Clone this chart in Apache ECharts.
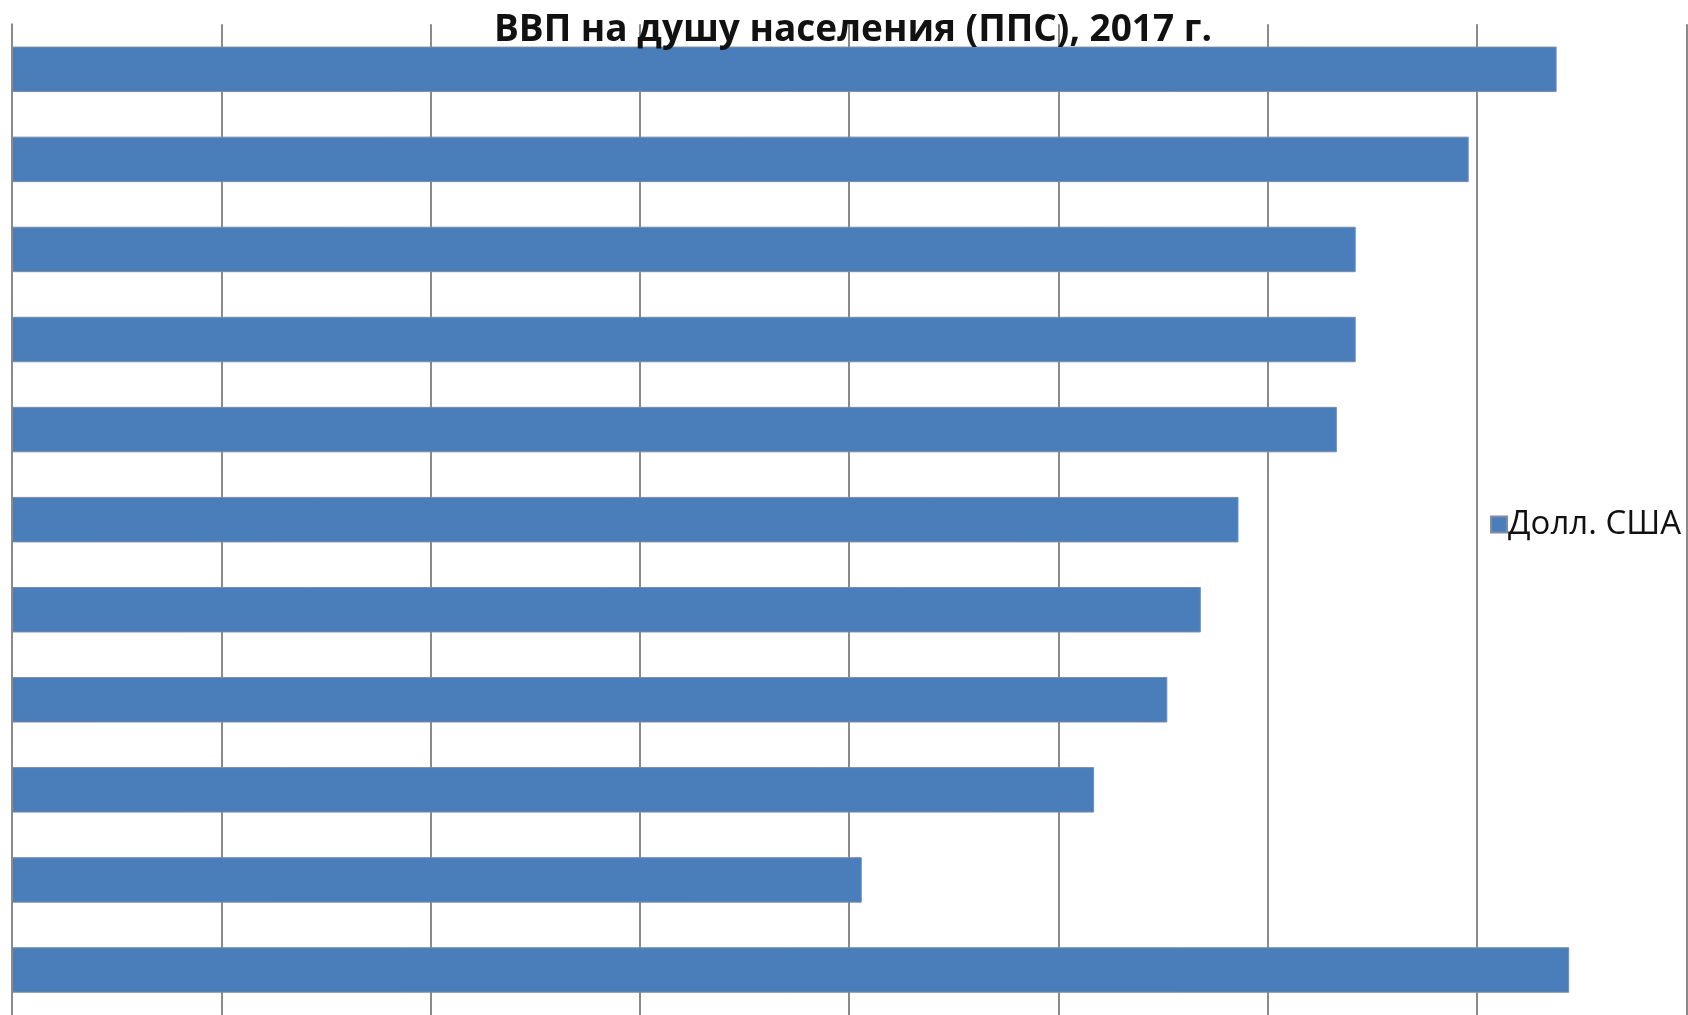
<!DOCTYPE html>
<html>
<head>
<meta charset="utf-8">
<script src="https://cdn.jsdelivr.net/npm/echarts@6/dist/echarts.min.js"></script>
<style>
html,body{margin:0;padding:0;background:#fff;}
#chart{width:1688px;height:1015px;}
</style>
</head>
<body>
<div id="chart"></div>
<script>
const titleText = 'ВВП на душу населения (ППС), 2017 г.';
const seriesName = 'Долл. США';
const categories = ['Категория 1','Категория 2','Категория 3','Категория 4','Категория 5','Категория 6','Категория 7','Категория 8','Категория 9','Категория 10','Категория 11'];
const values = [73800, 69600, 64200, 64200, 63300, 58600, 56800, 55200, 51700, 40600, 74400];
const axisMin = 0;
const axisMax = 80000;
const axisInterval = 10000;

const chart = echarts.init(document.getElementById('chart'), null, {renderer: 'canvas'});
chart.setOption({
  animation: false,
  backgroundColor: '#ffffff',
  title: {
    text: titleText,
    left: 848,
    textAlign: 'center',
    top: 7,
    textStyle: {fontFamily: 'Open Sans', fontWeight: 'bold', fontSize: 37, color: '#111'}
  },
  legend: {
    data: [seriesName],
    left: 1485,
    top: 503,
    icon: 'rect',
    itemWidth: 16,
    itemHeight: 16,
    itemGap: 4,
    textStyle: {fontFamily: 'Open Sans', fontSize: 33, color: '#111', padding: [0,0,0,-4]}
  },
  grid: {left: 12, top: 24.3, width: 1674.4, height: 994.8, containLabel: false},
  xAxis: {
    type: 'value',
    min: axisMin, max: axisMax, interval: axisInterval,
    axisLabel: {show: false},
    axisTick: {show: false},
    axisLine: {show: false},
    splitLine: {show: true, lineStyle: {color: '#8a8a8a', width: 2}}
  },
  yAxis: {
    type: 'category',
    data: categories,
    inverse: true,
    axisLabel: {show: false},
    axisTick: {show: false},
    axisLine: {show: true, lineStyle: {color: '#8a8a8a', width: 2}}
  },
  series: [{
    name: seriesName,
    type: 'bar',
    data: values,
    barWidth: '50.5%',
    itemStyle: {color: '#4a7ebb', borderColor: '#7d8ca3', borderWidth: 1}
  }]
});
</script>
</body>
</html>
